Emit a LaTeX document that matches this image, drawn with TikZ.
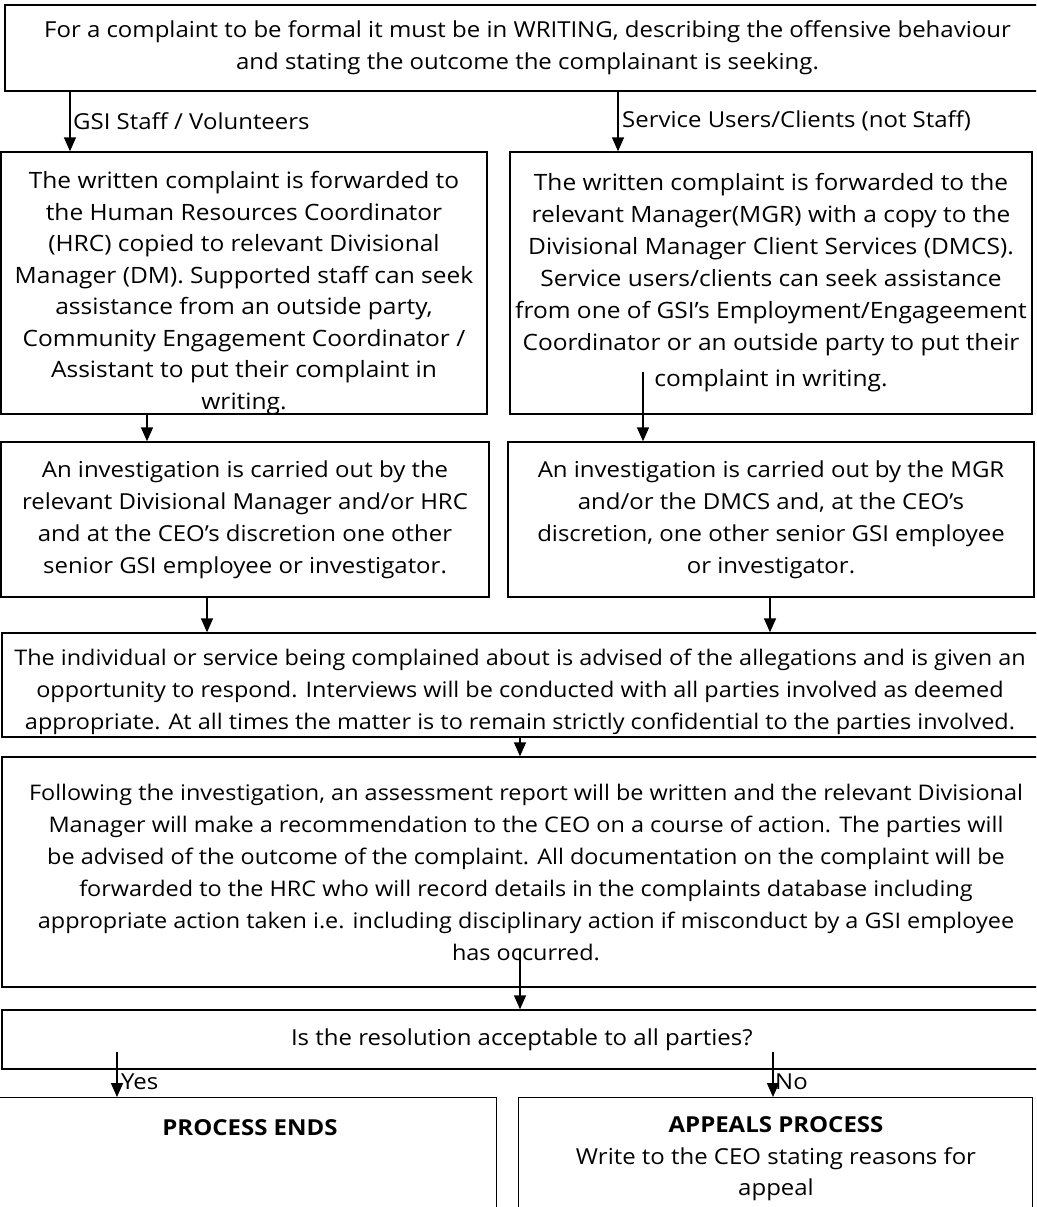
\documentclass[tikz,border=0pt]{standalone}
\usepackage{fontspec}
\setmainfont{Open Sans}[FakeStretch=1.09]
\usetikzlibrary{arrows.meta, positioning}

\begin{document}
\begin{tikzpicture}[
    x=1pt, y=-1pt,
    box/.style={rectangle, draw=black, line width=1.4pt, inner sep=0pt, align=center, font=\fontsize{22}{32}\selectfont},
    txt/.style={inner sep=0pt, align=center, font=\fontsize{22}{31.5}\selectfont},
    lbl/.style={anchor=west, inner sep=0pt, font=\fontsize{22}{24}\selectfont},
    arrow/.style={-{Triangle[length=14pt, width=12pt]}, line width=1.6pt},
]
\clip (0,0) rectangle (1036,1207);

% Formal complaint
\node[box, minimum width=1045pt, minimum height=86pt] (formal) at (527.5,48) {
    For a complaint to be formal it must be in WRITING, describing the offensive behaviour\\
    and stating the outcome the complainant is seeking.
};

% Two streams
\node[box, minimum width=486pt, minimum height=262pt] (staff) at (244,283) {};
\node[txt, font=\fontsize{22.5}{31.5}\selectfont] (stafft) at (244,293) {
    The written complaint is forwarded to\\
    the Human Resources Coordinator\\
    (HRC) copied to relevant Divisional\\
    Manager (DM). Supported staff can seek\\
    assistance from an outside party,\\
    Community Engagement Coordinator /\\
    Assistant to put their complaint in\\
    writing.
};
\node[box, minimum width=522pt, minimum height=262pt, font=\fontsize{22.5}{32}\selectfont] (client) at (771,283) {
    The written complaint is forwarded to the\\
    relevant Manager(MGR) with a copy to the\\
    Divisional Manager Client Services (DMCS).\\
    Service users/clients can seek assistance\\
    from one of GSI’s Employment/Engageement\\
    Coordinator or an outside party to put their\\[4pt]
    complaint in writing.
};

% Investigations
\node[box, minimum width=488pt, minimum height=155pt] (staffinv) at (245,519.5) {
    An investigation is carried out by the\\
    relevant Divisional Manager and/or HRC\\
    and at the CEO’s discretion one other\\
    senior GSI employee or investigator.
};
\node[box, minimum width=526pt, minimum height=155pt] (clientinv) at (771,519.5) {
    An investigation is carried out by the MGR\\
    and/or the DMCS and, at the CEO’s\\
    discretion, one other senior GSI employee\\
    or investigator.
};

% Response and report
\node[box, minimum width=1048pt, minimum height=104pt] (advise) at (526,685) {};
\node[txt, font=\fontsize{21.5}{32}\selectfont] (adviset) at (520,692) {
    The individual or service being complained about is advised of the allegations and is given an\\
    opportunity to respond. Interviews will be conducted with all parties involved as deemed\\
    appropriate. At all times the matter is to remain strictly confidential to the parties involved.
};
\node[box, minimum width=1048pt, minimum height=230pt, font=\fontsize{21.5}{32}\selectfont] (report) at (526,872) {
    Following the investigation, an assessment report will be written and the relevant Divisional\\
    Manager will make a recommendation to the CEO on a course of action. The parties will\\
    be advised of the outcome of the complaint. All documentation on the complaint will be\\
    forwarded to the HRC who will record details in the complaints database including\\
    appropriate action taken i.e. including disciplinary action if misconduct by a GSI employee\\
    has occurred.
};
\node[box, minimum width=1048pt, minimum height=59pt] (resolve) at (526,1039.5) {
    Is the resolution acceptable to all parties?
};

% Outcomes
\node[box, minimum width=497pt, minimum height=160pt, anchor=north west] (ends) at (-1,1097) {};
\node[box, minimum width=514pt, minimum height=160pt, anchor=north west] (appeal) at (518,1097) {};
\node[txt] (endst) at (250,1128) {\textbf{PROCESS ENDS}};
\node[txt] (appealt) at (776,1159) {
    \textbf{APPEALS PROCESS}\\
    Write to the CEO stating reasons for\\
    appeal
};

% Arrow positions
\coordinate (xs) at (70,0);
\coordinate (xc) at (618,0);
\coordinate (xsi) at (147,0);
\coordinate (ci) at (643,372);
\coordinate (xsa) at (207,0);
\coordinate (xca) at (770,0);
\coordinate (xad) at (520,0);
\coordinate (rep) at (520,950);
\coordinate (yes) at (117,1052);
\coordinate (no) at (773,1052);

% Arrows
\draw[arrow] (formal.south -| xs) -- (staff.north -| xs);
\draw[arrow] (formal.south -| xc) -- (client.north -| xc);
\draw[arrow] (staff.south -| xsi) -- (staffinv.north -| xsi);
\draw[arrow] (ci) -- (clientinv.north -| ci);
\draw[arrow] (staffinv.south -| xsa) -- (advise.north -| xsa);
\draw[arrow] (clientinv.south -| xca) -- (advise.north -| xca);
\draw[arrow] (advise.south -| xad) -- (report.north -| xad);
\draw[arrow] (rep) -- (resolve.north -| rep);
\draw[arrow] (yes) -- (ends.north -| yes);
\draw[arrow] (no) -- (appeal.north -| no);

% Branch labels
\node[lbl] (staffl) at (73,121) {GSI Staff / Volunteers};
\node[lbl] (clientl) at (622,121) {Service Users/Clients (not Staff)};
\node[lbl] (yesl) at (121,1082) {Yes};
\node[lbl] (nol) at (775,1082) {No};

\end{tikzpicture}
\end{document}
